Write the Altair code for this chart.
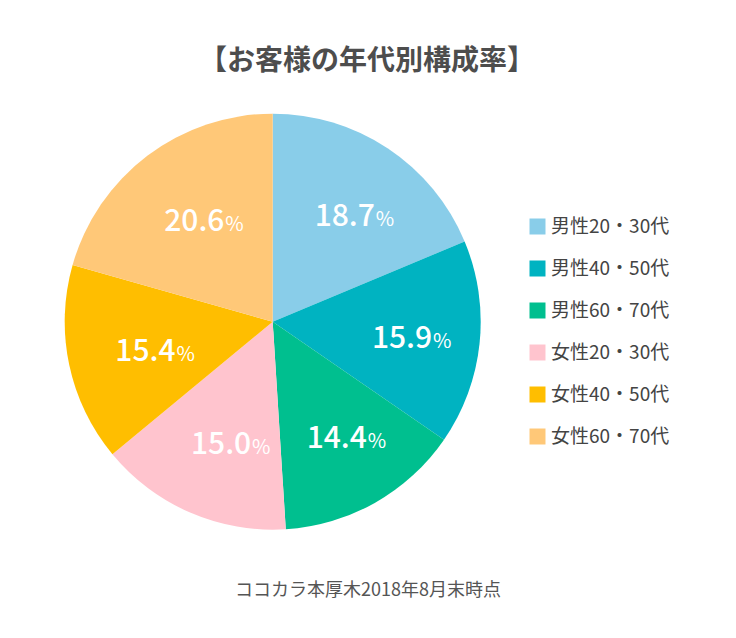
import altair as alt
import pandas as pd

categories = ["男性20・30代", "男性40・50代", "男性60・70代", "女性20・30代", "女性40・50代", "女性60・70代"]
values = [18.7, 15.9, 14.4, 15.0, 15.4, 20.6]
colors = ["#89CDE9", "#00B3C1", "#00BF8F", "#FFC4CE", "#FFBE00", "#FFC878"]
title_text = "【お客様の年代別構成率】"
note_text = "ココカラ本厚木2018年8月末時点"

df = pd.DataFrame({
    "cat": categories,
    "v": values,
    "o": list(range(len(categories))),
    "lab": [f"{v:.1f}" for v in values],
    "pct": ["%"] * len(values),
})

CX, CY = 264.7, 313.7
FONT = "Noto Sans CJK JP"

base = alt.Chart(df).encode(
    theta=alt.Theta("v:Q", stack=True),
    order=alt.Order("o:Q"),
    x=alt.value(CX),
    y=alt.value(CY),
)

pie = base.mark_arc(outerRadius=208).encode(
    color=alt.Color(
        "cat:N",
        scale=alt.Scale(domain=categories, range=colors),
        sort=categories,
        legend=alt.Legend(
            title=None,
            orient="none",
            legendX=520,
            legendY=209,
            symbolType="square",
            symbolSize=256,
            symbolStrokeWidth=0,
            labelFontSize=19,
            labelFont=FONT,
            labelColor="#444444",
            labelOffset=4,
            rowPadding=22,
            padding=0,
            labelLimit=300,
        ),
    )
)

num = base.mark_text(
    radius=130, font=FONT, fontSize=30, fontWeight=500, color="white",
    align="center", baseline="alphabetic", dy=13,
).encode(text="lab:N")

pct = base.mark_text(
    radius=130, font=FONT, fontSize=20, fontWeight="normal", color="white",
    align="left", baseline="alphabetic", dx=31, dy=13,
).encode(text="pct:N")

title = alt.Chart(pd.DataFrame({"t": [title_text]})).mark_text(
    font=FONT, fontSize=28, fontWeight="bold", color="#4D4D4D",
    align="center", baseline="middle",
).encode(text="t:N", x=alt.value(359), y=alt.value(54))

note = alt.Chart(pd.DataFrame({"t": [note_text]})).mark_text(
    font=FONT, fontSize=18, color="#555555",
    align="center", baseline="middle",
).encode(text="t:N", x=alt.value(360), y=alt.value(583))

chart = alt.layer(pie, num, pct, title, note).properties(
    width=720, height=622, padding=0, background="white",
    autosize=alt.AutoSizeParams(type="none"),
).configure_view(stroke=None)

chart.save("out.html", embed_options={"renderer": "svg", "actions": False})
